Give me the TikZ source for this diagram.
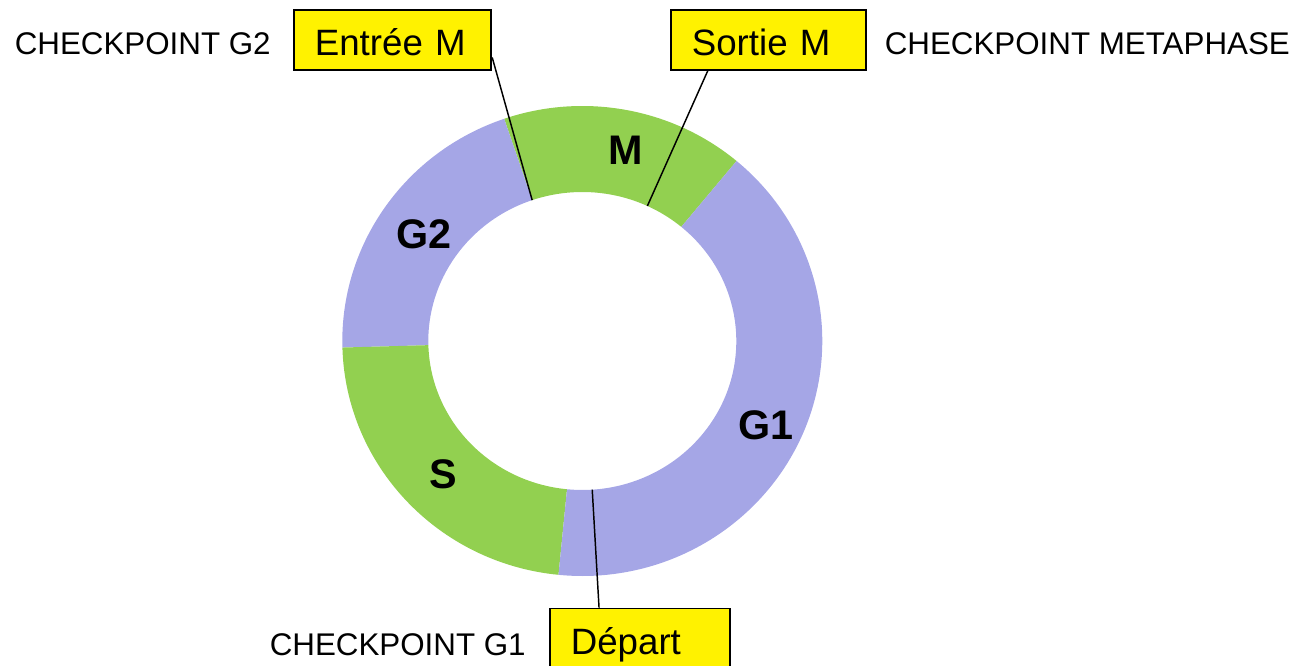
\documentclass[tikz,border=0pt]{standalone}
\usepackage{fontspec}
\setmainfont{Liberation Sans}
\usepackage{tikz}
\definecolor{phasegreen}{RGB}{146,208,80}
\definecolor{phaseblue}{RGB}{165,166,230}

\begin{document}
\begin{tikzpicture}[x=0.75pt,y=0.75pt,yscale=-1,xscale=1,
  phasebox/.style={draw, fill=yellow, line width=1.3pt, anchor=north west, inner xsep=15.75pt, inner ysep=0pt, text height=34.5pt, text depth=10.5pt, align=left, font=\fontsize{27.5}{32}\selectfont},
  chklabel/.style={anchor=base west, inner sep=0pt, font=\fontsize{23.5}{28}\selectfont},
  phaselabel/.style={inner sep=0pt, font=\fontsize{31}{34}\selectfont\bfseries}]
\useasboundingbox (0,0) rectangle (1304,666);

%Centre of the ring
\coordinate (c) at (582.3,341);

\begin{scope}[shift={(c)}]
%Shape: Ring segment M
\fill [phasegreen] (-50:240 and 235) arc [start angle=-50, end angle=-109, x radius=240, y radius=235] -- (-109:154 and 149) arc [start angle=-109, end angle=-50, x radius=154, y radius=149] -- cycle ;
%Shape: Ring segment G2
\fill [phaseblue] (-109:240 and 235) arc [start angle=-109, end angle=-181.6, x radius=240, y radius=235] -- (-181.6:154 and 149) arc [start angle=-181.6, end angle=-109, x radius=154, y radius=149] -- cycle ;
%Shape: Ring segment S
\fill [phasegreen] (-181.6:240 and 235) arc [start angle=-181.6, end angle=-264.3, x radius=240, y radius=235] -- (-264.3:154 and 149) arc [start angle=-264.3, end angle=-181.6, x radius=154, y radius=149] -- cycle ;
%Shape: Ring segment G1
\fill [phaseblue] (-264.3:240 and 235) arc [start angle=-264.3, end angle=-410, x radius=240, y radius=235] -- (-410:154 and 149) arc [start angle=-410, end angle=-264.3, x radius=154, y radius=149] -- cycle ;
\end{scope}

% Phase labels
\node [phaselabel] (lblM) at (626,150) {M};
\node [phaselabel] (lblG2) at (423.7,234.5) {G2};
\node [phaselabel] (lblG1) at (765.8,425.7) {G1};
\node [phaselabel] (lblS) at (443.3,474.7) {S};

% Yellow boxes
\node [phasebox, text width=116.6pt] (entree) at (293,9) {Entrée M};
\node [phasebox, text width=114.75pt] (sortie) at (670,9) {Sortie M};
\node [phasebox, text width=103.7pt] (depart) at (549,607.7) {Départ};

% Checkpoint texts
\node [chklabel] (chkG2) at (14.5,54.3) {CHECKPOINT G2};
\node [chklabel] (chkMeta) at (884.5,54.3) {CHECKPOINT METAPHASE};
\node [chklabel] (chkG1) at (269.5,655) {CHECKPOINT G1};

% Ends of the connectors on the inner edge
\coordinate (entreeEnd) at ([shift={(-109:154 and 149)}]c);
\coordinate (sortieEnd) at ([shift={(-65:154 and 149)}]c);
\coordinate (departEnd) at ([shift={(86.3:154 and 149)}]c);

%Straight Lines
\draw [line width=1.1pt] (entree.-10) -- (entreeEnd) ;
\draw [line width=1.1pt] (sortie.-153) -- (sortieEnd) ;
\draw [line width=1.1pt] (depart.143) -- (departEnd) ;

\end{tikzpicture}
\end{document}
